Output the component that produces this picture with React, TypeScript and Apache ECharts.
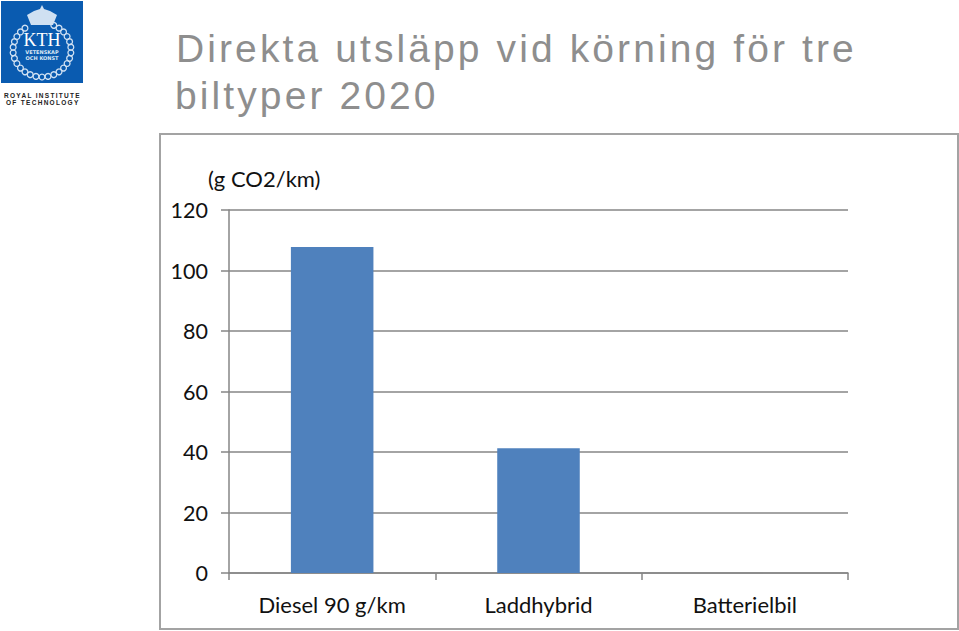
import React, { useEffect, useRef } from "react";
import * as echarts from "echarts";

const categories = ["Diesel 90 g/km", "Laddhybrid", "Batterielbil"];
const values = [107.8, 41.2, 0];
const yTicks = { min: 0, max: 120, interval: 20 };
const titleLines = ["Direkta utsläpp vid körning för tre", "biltyper 2020"];
const unit = "(g CO2/km)";
const logoTexts = ["KTH", "VETENSKAP", "OCH KONST"];
const logoCaption = ["ROYAL INSTITUTE", "OF TECHNOLOGY"];

const wreathDots = Array.from({ length: 30 }, (_, i) => i);

export default function App() {
  const ref = useRef<HTMLDivElement>(null);
  useEffect(() => {
    const chart = echarts.init(ref.current!, null, { renderer: "svg" });
    const labelFont = "Lato, Carlito, sans-serif";
    const lead = "#868686";
    const dots = wreathDots
      .filter((i) => i !== 0 && i !== 29 && i !== 1 && i !== 28)
      .map((i) => {
        const a = (i / 30) * Math.PI * 2 - Math.PI / 2;
        return {
          type: "circle",
          shape: { cx: 42 + 29 * Math.cos(a), cy: 50 + 27 * Math.sin(a), r: 2.9 },
          style: { fill: "none", stroke: "#cfe0f2", lineWidth: 1.3 },
        };
      });
    chart.setOption({
      animation: false,
      backgroundColor: "#ffffff",
      grid: { left: 229, right: 111, top: 210, bottom: 58, containLabel: false },
      xAxis: {
        type: "category",
        data: categories,
        axisLine: { lineStyle: { color: lead, width: 1.5 } },
        axisTick: { show: true, alignWithLabel: false, length: 7, lineStyle: { color: lead, width: 1.5 } },
        axisLabel: { fontFamily: labelFont, fontSize: 22, color: "#111", margin: 20, interval: 0 },
      },
      yAxis: {
        type: "value",
        min: yTicks.min,
        max: yTicks.max,
        interval: yTicks.interval,
        name: unit,
        nameLocation: "end",
        nameGap: 21,
        nameTextStyle: { fontFamily: labelFont, fontSize: 22, color: "#111", align: "left", padding: [0, 0, 0, -21] },
        axisLine: { show: true, lineStyle: { color: lead, width: 1.5 } },
        axisTick: { show: true, length: 8, lineStyle: { color: lead, width: 1.5 } },
        axisLabel: { fontFamily: labelFont, fontSize: 21.5, color: "#111", margin: 21 },
        splitLine: { show: true, lineStyle: { color: lead, width: 1.5 } },
      },
      series: [
        {
          type: "bar",
          data: values,
          barWidth: "40%",
          itemStyle: { color: "#4F81BD" },
        },
      ],
      graphic: [
        {
          type: "rect",
          silent: true,
          z: -1,
          shape: { x: 160, y: 134, width: 798, height: 495 },
          style: { fill: "none", stroke: "#a3a3a3", lineWidth: 2 },
        },
        {
          type: "text",
          x: 176,
          y: 28.5,
          style: { text: titleLines[0], font: '39px "Liberation Sans"', fill: "#8e8e8e" },
        },
        {
          type: "text",
          x: 175,
          y: 75.5,
          style: { text: titleLines[1], font: '39px "Liberation Sans"', fill: "#8e8e8e" },
        },
        { type: "rect", shape: { x: 1, y: 1, width: 82, height: 82 }, style: { fill: "#0a5bb0" } },
        ...dots,
        {
          type: "polygon",
          shape: { points: [[31, 25], [27, 15], [34, 11], [40, 9], [42, 5], [44, 9], [50, 11], [57, 15], [53, 25]] },
          style: { fill: "#cfe0f2" },
        },
        {
          type: "text",
          x: 42,
          y: 31,
          style: { text: logoTexts[0], font: '18px "Liberation Serif"', fill: "#ffffff", align: "center" },
        },
        {
          type: "text",
          x: 42,
          y: 49.5,
          style: { text: logoTexts[1], font: 'bold 5px "DejaVu Sans"', fill: "#dbe8f5", align: "center" },
        },
        {
          type: "text",
          x: 42,
          y: 55.5,
          style: { text: logoTexts[2], font: 'bold 5px "DejaVu Sans"', fill: "#dbe8f5", align: "center" },
        },
        {
          type: "text",
          x: 4,
          y: 91.5,
          style: { text: logoCaption[0], font: 'bold 6.5px "Liberation Sans"', fill: "#222" },
        },
        {
          type: "text",
          x: 6,
          y: 98.7,
          style: { text: logoCaption[1], font: 'bold 6.5px "Liberation Sans"', fill: "#222" },
        },
      ],
    });
    return () => chart.dispose();
  }, []);
  return (
    <div style={{ position: "fixed", left: 0, top: 0, width: 959, height: 631, background: "#fff" }}>
      <style>{`text[style*="39px"]{letter-spacing:3.1px} text[style*="6.5px"]{letter-spacing:1.3px}`}</style>
      <div ref={ref} style={{ width: 959, height: 631 }} />
    </div>
  );
}
